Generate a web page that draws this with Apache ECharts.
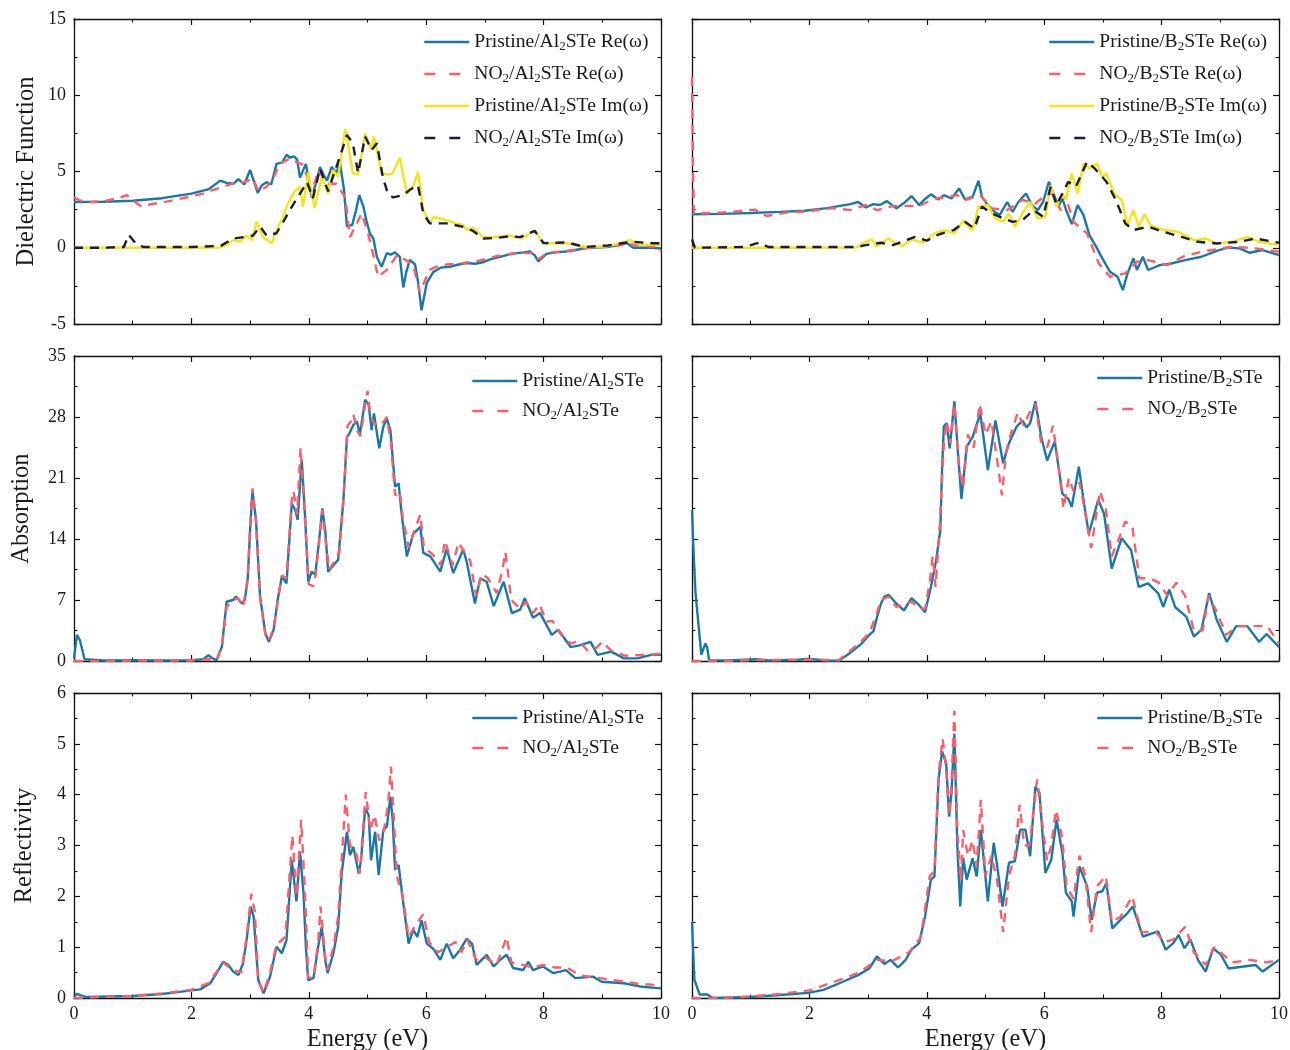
<!DOCTYPE html>
<html>
<head>
<meta charset="utf-8">
<title>Optical properties of Al2STe and B2STe</title>
<script src="https://cdn.jsdelivr.net/npm/echarts@6/dist/echarts.min.js"></script>
<style>
  html, body { margin: 0; padding: 0; background: #fff; overflow: hidden; }
  #chart { width: 1290px; height: 1050px; }
</style>
</head>
<body>
<div id="chart"></div>
<script>
// ---- Data: [energy (eV), value] ----

// Dielectric function, Al2STe
const alRePristine = [[0,3.0],[0.5,3.02],[1.0,3.08],[1.5,3.25],[2.0,3.55],[2.3,3.85],[2.49,4.4],[2.6,4.25],[2.72,4.2],[2.8,4.5],[2.9,4.15],[3.0,5.1],[3.13,3.6],[3.2,4.1],[3.28,4.3],[3.36,4.15],[3.45,5.5],[3.55,5.6],[3.62,6.1],[3.68,5.9],[3.74,6.0],[3.8,5.8],[3.85,4.6],[3.95,5.5],[4.05,3.3],[4.12,4.2],[4.19,5.3],[4.25,4.8],[4.31,4.4],[4.39,5.3],[4.47,4.9],[4.53,5.6],[4.6,3.8],[4.65,1.4],[4.74,1.5],[4.8,2.4],[4.86,3.45],[4.93,2.7],[4.98,1.8],[5.04,0.95],[5.1,0.6],[5.16,-0.6],[5.24,-1.25],[5.33,-0.35],[5.4,-0.45],[5.47,-0.3],[5.55,-0.6],[5.61,-2.6],[5.66,-1.6],[5.72,-0.8],[5.81,-1.1],[5.86,-2.2],[5.92,-4.1],[6.01,-2.3],[6.12,-1.6],[6.25,-1.3],[6.4,-1.25],[6.55,-1.1],[6.69,-1.0],[6.83,-1.05],[6.97,-0.95],[7.1,-0.75],[7.26,-0.6],[7.4,-0.45],[7.54,-0.35],[7.67,-0.3],[7.77,-0.25],[7.85,-0.5],[7.91,-0.9],[8.05,-0.4],[8.2,-0.3],[8.39,-0.25],[8.55,-0.15],[8.73,0],[9.08,0.05],[9.3,0.2],[9.42,0.3],[9.53,0.0],[9.7,0.0],[9.87,0.0],[10,-0.05]];
const alReNO2 = [[0,3.3],[0.1,3.1],[0.27,3.0],[0.5,3.05],[0.75,3.25],[0.9,3.45],[1.0,3.1],[1.15,2.7],[1.3,2.85],[1.47,2.95],[1.8,3.2],[2.2,3.55],[2.45,3.9],[2.7,4.2],[2.9,4.3],[3.05,4.55],[3.14,3.7],[3.28,4.0],[3.4,4.6],[3.5,5.5],[3.68,5.85],[3.8,5.6],[3.88,5.5],[3.96,4.8],[4.05,3.55],[4.16,5.1],[4.25,4.6],[4.33,4.2],[4.47,4.2],[4.58,3.55],[4.62,3.3],[4.7,0.7],[4.79,1.37],[4.9,2.25],[5.01,0.95],[5.1,-0.5],[5.18,-1.9],[5.33,-1.45],[5.5,-0.5],[5.65,-0.8],[5.78,-1.15],[5.89,-2.9],[6.06,-1.45],[6.2,-1.2],[6.35,-1.1],[6.63,-1.0],[6.9,-0.85],[7.2,-0.55],[7.5,-0.35],[7.82,-0.35],[7.92,-0.75],[8.05,-0.35],[8.4,-0.2],[8.8,0],[9.2,0.1],[9.45,0.25],[9.7,0.1],[9.95,0.05],[10,-0.25]];
const alImPristine = [[0,0],[1,0],[2,0],[2.49,0.02],[2.6,0.2],[2.71,0.5],[2.83,0.4],[2.94,0.8],[3.03,0.5],[3.11,1.7],[3.22,0.7],[3.37,0.3],[3.45,1.15],[3.55,1.9],[3.62,2.7],[3.7,3.3],[3.76,3.7],[3.85,4.0],[3.9,2.7],[3.99,4.9],[4.1,2.6],[4.22,4.65],[4.33,3.55],[4.41,5.1],[4.5,4.65],[4.62,7.8],[4.68,6.5],[4.75,4.9],[4.84,4.8],[4.96,7.5],[5.07,6.4],[5.11,7.3],[5.24,4.9],[5.35,4.8],[5.43,4.9],[5.55,5.9],[5.67,3.55],[5.78,4.0],[5.86,5.0],[5.95,2.5],[6.06,1.6],[6.12,2.0],[6.2,1.95],[6.35,1.8],[6.5,1.6],[6.63,1.5],[6.69,1.15],[6.8,1.3],[6.97,0.7],[7.2,0.7],[7.43,0.8],[7.63,0.6],[7.85,1.15],[7.99,0.3],[8.39,0.3],[8.73,0.05],[9.08,0.1],[9.3,0.3],[9.47,0.5],[9.64,0.2],[10,0.2]];
const alImNO2 = [[0,0],[0.5,0],[0.85,0.05],[0.93,0.85],[1.05,0.3],[1.18,0.05],[2.0,0.05],[2.5,0.12],[2.71,0.6],[2.9,0.7],[3.05,0.8],[3.17,1.4],[3.28,0.8],[3.45,0.95],[3.58,1.8],[3.68,2.5],[3.85,3.55],[3.97,4.3],[4.07,3.25],[4.19,5.2],[4.33,3.7],[4.45,5.1],[4.55,6.2],[4.65,7.4],[4.75,6.85],[4.84,4.9],[4.96,7.3],[5.07,6.4],[5.16,6.85],[5.26,4.65],[5.35,3.5],[5.44,3.3],[5.61,3.45],[5.72,3.8],[5.86,4.1],[5.95,2.25],[6.06,1.6],[6.35,1.6],[6.63,1.37],[6.8,1.1],[6.97,0.6],[7.2,0.65],[7.43,0.75],[7.6,0.7],[7.85,1.1],[8.0,0.3],[8.4,0.35],[8.7,0.05],[9.1,0.15],[9.5,0.4],[9.8,0.3],[10,0.3]];

// Dielectric function, B2STe
const bRePristine = [[0,2.2],[0.5,2.22],[1,2.28],[1.5,2.35],[1.92,2.43],[2.3,2.6],[2.7,2.86],[2.83,3.0],[2.96,2.64],[3.09,2.86],[3.2,2.8],[3.32,3.06],[3.48,2.58],[3.6,2.9],[3.74,3.39],[3.87,2.8],[3.97,3.2],[4.07,3.5],[4.2,3.17],[4.29,3.45],[4.42,3.23],[4.55,3.89],[4.65,3.17],[4.78,3.34],[4.88,4.39],[4.94,3.34],[5.02,2.9],[5.11,2.47],[5.24,2.14],[5.37,3.0],[5.46,2.36],[5.56,3.0],[5.69,3.56],[5.79,2.8],[5.89,2.47],[5.98,3.0],[6.08,4.33],[6.18,3.34],[6.24,2.69],[6.31,3.23],[6.37,2.51],[6.47,1.55],[6.57,2.8],[6.67,2.14],[6.77,0.83],[6.9,-0.04],[6.99,-0.7],[7.12,-1.57],[7.25,-1.9],[7.34,-2.78],[7.42,-1.68],[7.52,-0.7],[7.58,-1.46],[7.68,-0.59],[7.77,-1.46],[7.97,-1.14],[8.16,-1.03],[8.42,-0.8],[8.68,-0.59],[8.94,-0.2],[9.14,0.02],[9.33,-0.04],[9.5,-0.33],[9.72,-0.15],[10,-0.48]];
const bReNO2 = [[0,11.2],[0.015,6],[0.03,2.25],[0.5,2.3],[1.07,2.5],[1.27,2.08],[1.6,2.3],[2.0,2.4],[2.4,2.6],[2.7,2.47],[2.96,2.8],[3.15,2.47],[3.42,2.73],[3.6,2.75],[3.87,2.73],[4.13,3.23],[4.3,3.3],[4.52,3.45],[4.65,3.13],[4.91,3.45],[5.11,2.58],[5.37,2.47],[5.63,3.13],[5.85,2.9],[6.02,3.45],[6.15,3.56],[6.28,2.47],[6.41,2.8],[6.5,1.7],[6.73,0.94],[6.93,-1.03],[7.12,-1.9],[7.38,-1.68],[7.58,-0.92],[7.77,-0.81],[8.1,-1.14],[8.36,-0.59],[8.68,-0.26],[9.2,0.07],[9.6,-0.04],[10,-0.26]];
const bImPristine = [[0,0],[1,0],[2,0],[2.8,0.02],[2.9,0.25],[3.06,0.55],[3.15,0.1],[3.35,0.61],[3.45,0.35],[3.58,0.1],[3.74,0.55],[3.93,0.33],[4.13,0.94],[4.29,1.16],[4.46,0.94],[4.62,1.75],[4.78,1.16],[4.88,2.69],[5.04,2.8],[5.17,1.92],[5.3,1.7],[5.4,2.25],[5.5,1.38],[5.63,2.25],[5.76,3.0],[5.89,1.92],[6.02,2.03],[6.11,4.11],[6.21,2.69],[6.31,3.56],[6.37,3.13],[6.47,4.87],[6.57,3.56],[6.67,5.53],[6.77,5.2],[6.9,5.53],[6.99,4.66],[7.06,4.87],[7.19,3.56],[7.32,3.13],[7.42,1.49],[7.52,2.47],[7.61,1.38],[7.71,2.2],[7.81,1.49],[8.03,1.16],[8.29,1.05],[8.55,0.5],[8.75,0.61],[8.94,0.28],[9.2,0.39],[9.47,0.72],[9.66,0.39],[10,0.17]];
const bImNO2 = [[0,0.55],[0.05,0],[0.9,0.05],[1.14,0.33],[1.3,0.05],[2.8,0.05],[2.96,0.17],[3.22,0.33],[3.42,0.17],[3.8,0.72],[4.0,0.46],[4.2,0.87],[4.46,1.16],[4.65,1.7],[4.81,1.27],[4.94,2.69],[5.11,2.25],[5.3,1.92],[5.46,1.7],[5.63,1.81],[5.82,2.47],[5.98,2.03],[6.11,4.0],[6.21,2.8],[6.31,3.56],[6.41,4.33],[6.54,4.0],[6.73,5.64],[6.86,5.2],[7.06,4.33],[7.22,3.13],[7.38,1.6],[7.52,1.16],[7.77,1.38],[8.03,1.05],[8.29,0.77],[8.62,0.39],[8.94,0.28],[9.33,0.39],[9.6,0.61],[10,0.33]];

// Absorption
const alAbsPristine = [[0,0.3],[0.05,3.0],[0.1,2.4],[0.18,0.2],[0.5,0.05],[1.0,0.1],[1.5,0.05],[2.0,0.1],[2.2,0.2],[2.29,0.65],[2.36,0.3],[2.43,0.1],[2.52,1.64],[2.6,6.8],[2.71,7.0],[2.76,7.4],[2.86,6.6],[2.91,7.0],[2.96,9.5],[3.0,15.0],[3.04,19.6],[3.1,16.2],[3.17,7.4],[3.26,3.17],[3.32,2.2],[3.4,3.55],[3.47,7.0],[3.54,9.7],[3.62,8.9],[3.71,18.1],[3.77,17.3],[3.81,16.2],[3.88,23.1],[3.94,16.2],[3.99,9.1],[4.05,10.25],[4.11,9.9],[4.17,13.5],[4.23,17.5],[4.28,15.0],[4.33,10.25],[4.42,11.0],[4.5,11.6],[4.59,18.5],[4.65,25.7],[4.69,26.1],[4.76,27.1],[4.82,27.5],[4.87,26.0],[4.96,30.0],[5.02,29.4],[5.07,26.5],[5.11,28.4],[5.2,24.4],[5.27,26.9],[5.33,27.8],[5.39,26.5],[5.47,20.0],[5.53,20.4],[5.58,17.0],[5.67,12.0],[5.78,14.6],[5.84,15.0],[5.9,15.4],[5.95,12.4],[6.07,12.0],[6.24,10.25],[6.35,12.9],[6.46,10.1],[6.55,11.5],[6.63,12.8],[6.69,11.4],[6.83,6.6],[6.92,9.5],[7.03,9.1],[7.15,6.3],[7.32,9.1],[7.46,5.5],[7.6,5.9],[7.68,7.2],[7.82,4.97],[7.94,5.5],[8.14,3.0],[8.25,3.6],[8.46,1.6],[8.61,1.8],[8.8,2.2],[8.92,0.7],[9.15,1.07],[9.37,0.3],[9.6,0.3],[9.83,0.7],[10,0.7]];
const alAbsNO2 = [[0,0],[0.5,0],[1.0,0.05],[2.0,0.05],[2.3,0.2],[2.43,0.1],[2.52,1.8],[2.6,6.2],[2.71,7.0],[2.8,7.2],[2.88,6.2],[2.96,9.5],[3.0,15.5],[3.04,19.8],[3.1,16.0],[3.17,7.2],[3.26,3.0],[3.32,2.3],[3.4,3.8],[3.54,9.8],[3.62,9.5],[3.71,18.5],[3.74,19.5],[3.8,16.8],[3.86,24.5],[3.94,15.5],[4.0,8.8],[4.08,8.6],[4.12,10.0],[4.23,17.3],[4.3,13.0],[4.35,10.5],[4.44,11.5],[4.52,12.5],[4.6,19.5],[4.66,27.0],[4.72,27.5],[4.76,28.3],[4.82,26.5],[4.88,25.8],[4.95,29.0],[5.0,31.0],[5.05,28.0],[5.12,27.2],[5.2,27.0],[5.28,27.5],[5.33,28.0],[5.4,25.0],[5.47,19.0],[5.55,19.5],[5.6,16.5],[5.7,13.0],[5.8,15.0],[5.9,16.8],[5.96,13.0],[6.1,12.3],[6.25,11.0],[6.32,13.8],[6.45,11.0],[6.55,13.6],[6.65,12.5],[6.75,11.5],[6.85,7.5],[6.95,10.0],[7.05,9.5],[7.2,7.8],[7.3,10.5],[7.35,12.5],[7.45,7.0],[7.6,6.0],[7.7,6.8],[7.82,5.5],[7.93,6.5],[8.05,4.5],[8.15,4.6],[8.3,3.0],[8.46,2.0],[8.6,2.3],[8.75,1.2],[8.9,1.5],[9.0,2.2],[9.15,1.2],[9.4,0.6],[9.7,0.7],[10,0.8]];
const bAbsPristine = [[0,17.3],[0.03,12],[0.06,7.8],[0.13,2.8],[0.16,0.7],[0.2,1.5],[0.23,2.0],[0.26,1.5],[0.29,0.1],[0.6,0.05],[1.1,0.2],[1.3,0.05],[1.8,0.15],[2.0,0.25],[2.3,0.05],[2.5,0.04],[2.7,0.96],[2.89,2.0],[3.02,3.0],[3.09,3.4],[3.15,5.0],[3.22,6.6],[3.28,7.4],[3.35,7.6],[3.48,6.6],[3.61,5.8],[3.74,7.2],[3.87,6.4],[3.97,5.6],[4.07,8.5],[4.16,11.6],[4.23,15.0],[4.26,22.0],[4.29,26.9],[4.34,27.3],[4.39,24.4],[4.47,29.8],[4.53,24.0],[4.59,18.6],[4.68,24.6],[4.78,25.7],[4.91,28.4],[4.97,25.5],[5.04,21.9],[5.1,24.5],[5.17,27.6],[5.3,22.7],[5.4,25.0],[5.53,26.9],[5.63,27.6],[5.7,26.8],[5.76,27.3],[5.85,29.8],[5.95,25.7],[6.05,23.0],[6.18,25.2],[6.31,19.2],[6.41,18.6],[6.47,17.7],[6.59,22.3],[6.68,18.0],[6.76,14.6],[6.92,18.5],[7.02,16.9],[7.15,10.6],[7.32,14.1],[7.48,12.7],[7.61,8.5],[7.77,8.9],[7.94,7.8],[8.03,6.2],[8.13,8.2],[8.23,6.2],[8.42,5.1],[8.55,2.8],[8.68,3.6],[8.81,7.8],[8.94,4.7],[9.11,2.2],[9.27,4.0],[9.46,4.0],[9.66,2.2],[9.79,3.1],[10,1.6]];
const bAbsNO2 = [[0,0],[0.5,0],[1.1,0.1],[2.0,0.15],[2.5,0.1],[2.7,1.2],[2.89,2.3],[3.02,3.2],[3.15,5.5],[3.22,7.0],[3.35,7.4],[3.48,6.2],[3.61,6.5],[3.74,6.8],[3.87,6.0],[3.97,6.0],[4.05,9.0],[4.1,12],[4.15,8.5],[4.22,15.5],[4.29,25.0],[4.34,27.5],[4.4,25],[4.47,29.5],[4.55,22],[4.62,20],[4.7,26],[4.8,24.5],[4.9,29.5],[5.0,26],[5.1,27.5],[5.2,23],[5.28,19.0],[5.35,24],[5.45,26.5],[5.55,28.5],[5.65,27],[5.75,28.5],[5.85,29.5],[5.95,25],[6.05,24.5],[6.15,27.0],[6.25,22],[6.33,17.5],[6.42,21],[6.5,19.5],[6.6,20.5],[6.7,17.0],[6.8,13.0],[6.95,19.5],[7.05,17.5],[7.15,12],[7.3,14.5],[7.38,16.0],[7.5,15.5],[7.62,9.5],[7.8,9.5],[7.95,9.0],[8.1,7.5],[8.25,9.0],[8.4,7.5],[8.55,3.5],[8.7,3.5],[8.8,7.5],[8.95,5.5],[9.1,3.0],[9.3,4.0],[9.5,4.0],[9.8,4.0],[10,2.0]];

// Reflectivity
const alRefPristine = [[0,0.02],[0.05,0.08],[0.12,0.05],[0.2,0.02],[1.0,0.04],[1.5,0.08],[1.8,0.12],[2.0,0.15],[2.15,0.17],[2.32,0.29],[2.43,0.49],[2.54,0.71],[2.63,0.65],[2.71,0.52],[2.8,0.45],[2.88,0.68],[2.94,1.14],[3.01,1.8],[3.06,1.6],[3.14,0.35],[3.23,0.09],[3.34,0.42],[3.45,1.01],[3.54,0.88],[3.62,1.14],[3.71,2.71],[3.79,1.9],[3.85,2.88],[3.91,2.06],[3.95,1.01],[3.99,0.35],[4.08,0.39],[4.16,1.01],[4.22,1.4],[4.28,0.75],[4.32,0.49],[4.42,0.88],[4.5,1.4],[4.56,2.45],[4.65,3.27],[4.7,2.81],[4.76,2.97],[4.85,2.45],[4.89,2.71],[4.96,3.73],[5.02,3.6],[5.06,2.71],[5.13,3.27],[5.19,2.42],[5.27,3.31],[5.33,3.37],[5.39,3.96],[5.43,3.5],[5.47,2.52],[5.53,2.62],[5.61,1.86],[5.7,1.07],[5.78,1.34],[5.85,1.2],[5.92,1.53],[6.01,1.07],[6.12,0.97],[6.24,0.75],[6.35,1.07],[6.46,0.78],[6.58,0.95],[6.69,1.17],[6.78,1.07],[6.86,0.65],[7.03,0.85],[7.15,0.62],[7.26,0.75],[7.37,0.85],[7.48,0.59],[7.65,0.55],[7.74,0.71],[7.82,0.55],[7.99,0.62],[8.16,0.49],[8.28,0.52],[8.38,0.55],[8.54,0.39],[8.84,0.42],[8.99,0.32],[9.37,0.29],[9.68,0.22],[10,0.19]];
const alRefNO2 = [[0,0],[1,0.04],[1.5,0.09],[2.0,0.16],[2.3,0.3],[2.54,0.7],[2.7,0.55],[2.85,0.5],[2.94,1.2],[3.02,2.05],[3.08,1.7],[3.14,0.35],[3.23,0.1],[3.34,0.5],[3.45,1.05],[3.5,1.1],[3.6,1.2],[3.72,3.2],[3.79,2.0],[3.87,3.5],[3.93,2.2],[3.99,0.4],[4.08,0.4],[4.16,1.1],[4.2,1.8],[4.28,0.8],[4.32,0.55],[4.42,1.0],[4.5,1.6],[4.63,4.0],[4.7,3.0],[4.8,2.9],[4.87,2.45],[4.97,4.05],[5.05,3.3],[5.12,3.6],[5.2,3.1],[5.28,3.3],[5.35,3.8],[5.4,4.55],[5.45,3.5],[5.5,2.4],[5.6,2.0],[5.7,1.2],[5.8,1.4],[5.95,1.65],[6.05,1.1],[6.2,0.9],[6.35,1.0],[6.5,1.1],[6.6,0.9],[6.7,1.15],[6.85,0.75],[7.0,0.8],[7.2,0.65],[7.37,1.2],[7.45,0.7],[7.65,0.65],[7.8,0.6],[8.0,0.65],[8.2,0.6],[8.4,0.6],[8.6,0.45],[8.9,0.4],[9.2,0.35],[9.6,0.28],[10,0.25]];
const bRefPristine = [[0,1.5],[0.04,0.36],[0.13,0.07],[0.26,0.07],[0.36,0.0],[1,0.02],[1.5,0.06],[1.98,0.1],[2.24,0.16],[2.57,0.32],[2.83,0.45],[3.02,0.58],[3.15,0.82],[3.28,0.67],[3.38,0.75],[3.51,0.6],[3.64,0.75],[3.74,0.95],[3.87,1.08],[3.97,1.6],[4.07,2.33],[4.13,2.39],[4.2,4.29],[4.26,4.85],[4.33,4.62],[4.38,3.57],[4.42,4.03],[4.47,5.2],[4.52,2.98],[4.57,1.8],[4.62,2.75],[4.68,2.33],[4.78,2.75],[4.85,2.39],[4.92,3.31],[5.04,1.9],[5.14,3.05],[5.2,2.59],[5.29,1.8],[5.4,2.66],[5.5,2.69],[5.59,3.31],[5.68,3.31],[5.76,2.79],[5.85,4.16],[5.92,4.03],[6.02,2.46],[6.12,2.72],[6.21,3.51],[6.31,2.85],[6.37,2.07],[6.47,1.9],[6.5,1.6],[6.6,2.59],[6.73,2.2],[6.81,1.54],[6.9,2.07],[6.99,2.1],[7.06,2.26],[7.16,1.37],[7.32,1.56],[7.42,1.67],[7.51,1.8],[7.68,1.21],[7.94,1.31],[8.07,0.95],[8.2,1.08],[8.29,1.24],[8.39,0.98],[8.49,1.15],[8.62,0.75],[8.75,0.52],[8.88,0.98],[9.01,0.85],[9.14,0.58],[9.4,0.62],[9.6,0.65],[9.72,0.52],[10,0.75]];
const bRefNO2 = [[0,0],[0.5,0],[1,0.03],[1.5,0.08],[2,0.15],[2.5,0.35],[2.85,0.5],[3.15,0.75],[3.4,0.72],[3.7,0.9],[3.9,1.2],[4.05,2.4],[4.13,2.5],[4.2,4.4],[4.27,5.1],[4.33,4.5],[4.38,3.6],[4.42,4.2],[4.47,5.65],[4.52,3.3],[4.58,2.3],[4.62,3.3],[4.7,2.8],[4.78,3.1],[4.85,2.6],[4.92,3.9],[5.0,2.4],[5.1,2.8],[5.2,2.3],[5.3,1.3],[5.4,2.4],[5.5,2.8],[5.58,3.8],[5.66,3.0],[5.75,3.0],[5.88,4.3],[5.96,3.5],[6.05,2.7],[6.12,3.0],[6.2,3.7],[6.3,3.2],[6.38,2.2],[6.5,1.95],[6.6,2.8],[6.7,2.4],[6.8,1.3],[6.9,2.2],[7.05,2.4],[7.15,1.5],[7.3,1.6],[7.5,2.0],[7.65,1.3],[7.9,1.3],[8.05,1.1],[8.2,1.15],[8.4,1.4],[8.55,0.9],[8.75,0.65],[8.9,1.0],[9.0,0.9],[9.2,0.7],[9.5,0.75],[9.8,0.7],[10,0.75]];

// Axis ranges (min, max, tick step) per row, with the y-axis title
const rowRanges = [
  { min: -5, max: 15, interval: 5, name: 'Dielectric Function', gap: 35 },
  { min: 0, max: 35, interval: 7, name: 'Absorption', gap: 40 },
  { min: 0, max: 6, interval: 1, name: 'Reflectivity', gap: 37 }
];

// ---- Styling ----
const FONT = '"Liberation Serif", "Times New Roman", serif';
const BLUE = '#1b77a5';
const PINK = '#fb5f6c';
const YELLOW = '#f4e41a';
const NAVY = '#1b1c38';
const DASH = [9, 7];
const LEGEND_DASH = [11, 14];

const styles = {
  pristineRe: { color: BLUE, type: 'solid' },
  no2Re: { color: PINK, type: DASH },
  pristineIm: { color: YELLOW, type: 'solid' },
  no2Im: { color: NAVY, type: DASH }
};

// Panel layout: [left, top] of each plot box
const boxW = 587, boxH = 305;
const boxes = [[74, 19], [692, 19], [74, 356], [692, 356], [74, 693], [692, 693]];

// Series per panel; legend = [left, top, itemGap]
const panels = [
  { row: 0, col: 0, legend: [423, 32, 11], series: [
    ['Pristine/Al2STe Re(ω)', alRePristine, styles.pristineRe],
    ['NO2/Al2STe Re(ω)', alReNO2, styles.no2Re],
    ['Pristine/Al2STe Im(ω)', alImPristine, styles.pristineIm],
    ['NO2/Al2STe Im(ω)', alImNO2, styles.no2Im]] },
  { row: 0, col: 1, legend: [1048, 32, 11], series: [
    ['Pristine/B2STe Re(ω)', bRePristine, styles.pristineRe],
    ['NO2/B2STe Re(ω)', bReNO2, styles.no2Re],
    ['Pristine/B2STe Im(ω)', bImPristine, styles.pristineIm],
    ['NO2/B2STe Im(ω)', bImNO2, styles.no2Im]] },
  { row: 1, col: 0, legend: [471, 371, 9], series: [
    ['Pristine/Al2STe', alAbsPristine, styles.pristineRe],
    ['NO2/Al2STe', alAbsNO2, styles.no2Re]] },
  { row: 1, col: 1, legend: [1096, 368, 10], series: [
    ['Pristine/B2STe', bAbsPristine, styles.pristineRe],
    ['NO2/B2STe', bAbsNO2, styles.no2Re]] },
  { row: 2, col: 0, legend: [471, 708, 9], series: [
    ['Pristine/Al2STe', alRefPristine, styles.pristineRe],
    ['NO2/Al2STe', alRefNO2, styles.no2Re]] },
  { row: 2, col: 1, legend: [1096, 708, 9], series: [
    ['Pristine/B2STe', bRefPristine, styles.pristineRe],
    ['NO2/B2STe', bRefNO2, styles.no2Re]] }
];

// Turn "2" into a subscript in legend labels
function richName(name) {
  return name.split('2').map(p => p ? '{t|' + p + '}' : '').join('{s|2}');
}

const frameLine = { show: true, onZero: false, lineStyle: { color: '#111', width: 1.3 } };
const tickStyle = { show: true, inside: true, length: 6, lineStyle: { color: '#111', width: 1.2 } };
const minorStyle = { show: true, splitNumber: 2, length: 3.5, lineStyle: { color: '#111', width: 1.1 } };
const labelStyle = { fontFamily: FONT, fontSize: 18, color: '#1a1a1a' };
const nameStyle = { fontFamily: FONT, fontSize: 24.5, color: '#1a1a1a' };

const grid = [], xAxis = [], yAxis = [], series = [], legend = [];

panels.forEach((p, i) => {
  const [left, top] = boxes[i];
  // fixed plot boxes: no automatic shrinking to keep axis names inside the canvas
  grid.push({ left, top, width: boxW, height: boxH, containLabel: false, outerBoundsMode: 'none' });
  const r = rowRanges[p.row];
  const bottomRow = p.row === 2;
  const leftCol = p.col === 0;

  xAxis.push({
    type: 'value', gridIndex: i, position: 'bottom', min: 0, max: 10, interval: 2,
    axisLine: frameLine, axisTick: tickStyle, minorTick: minorStyle,
    splitLine: { show: false },
    axisLabel: Object.assign({ show: bottomRow, margin: 7 }, labelStyle),
    name: bottomRow ? 'Energy (eV)' : '', nameLocation: 'middle', nameGap: 29,
    nameTextStyle: nameStyle
  });
  xAxis.push({
    type: 'value', gridIndex: i, position: 'top', min: 0, max: 10, interval: 2,
    axisLine: frameLine, axisTick: tickStyle, minorTick: minorStyle,
    splitLine: { show: false }, axisLabel: { show: false }
  });
  yAxis.push({
    type: 'value', gridIndex: i, position: 'left', min: r.min, max: r.max, interval: r.interval,
    axisLine: frameLine, axisTick: tickStyle, minorTick: minorStyle,
    splitLine: { show: false },
    axisLabel: Object.assign({ show: leftCol, margin: 8 }, labelStyle),
    name: leftCol ? r.name : '', nameLocation: 'middle', nameGap: r.gap,
    nameTextStyle: nameStyle
  });
  yAxis.push({
    type: 'value', gridIndex: i, position: 'right', min: r.min, max: r.max, interval: r.interval,
    axisLine: frameLine, axisTick: tickStyle, minorTick: minorStyle,
    splitLine: { show: false }, axisLabel: { show: false }
  });

  const legendData = [];
  p.series.forEach(([name, data, st]) => {
    series.push({
      name, type: 'line', data,
      xAxisIndex: 2 * i, yAxisIndex: 2 * i,
      symbol: 'none', showSymbol: false, smooth: false, clip: true,
      lineStyle: { color: st.color, width: 2.4, type: st.type },
      itemStyle: { color: st.color },
      emphasis: { disabled: true }
    });
    legendData.push({
      name,
      lineStyle: { width: 2.6, type: st.type === 'solid' ? 'solid' : LEGEND_DASH }
    });
  });

  const [lx, ly, gap] = p.legend;
  legend.push({
    show: true, padding: 0,
    left: lx, top: ly, orient: 'vertical',
    itemWidth: 45, itemHeight: 14, itemGap: gap,
    selectedMode: false, data: legendData,
    itemStyle: { opacity: 0 },
    formatter: richName,
    textStyle: {
      fontFamily: FONT, fontSize: 19.6, color: '#1a1a1a',
      rich: {
        t: { fontFamily: FONT, fontSize: 19.6, color: '#1a1a1a', lineHeight: 22, verticalAlign: 'middle' },
        s: { fontFamily: FONT, fontSize: 13, color: '#1a1a1a', lineHeight: 13, verticalAlign: 'bottom', padding: [7, 0, 0, 0] }
      }
    }
  });
});

const chart = echarts.init(document.getElementById('chart'), null, { renderer: 'canvas' });
chart.setOption({
  animation: false,
  backgroundColor: '#ffffff',
  grid, xAxis, yAxis, series, legend
});
</script>
</body>
</html>
